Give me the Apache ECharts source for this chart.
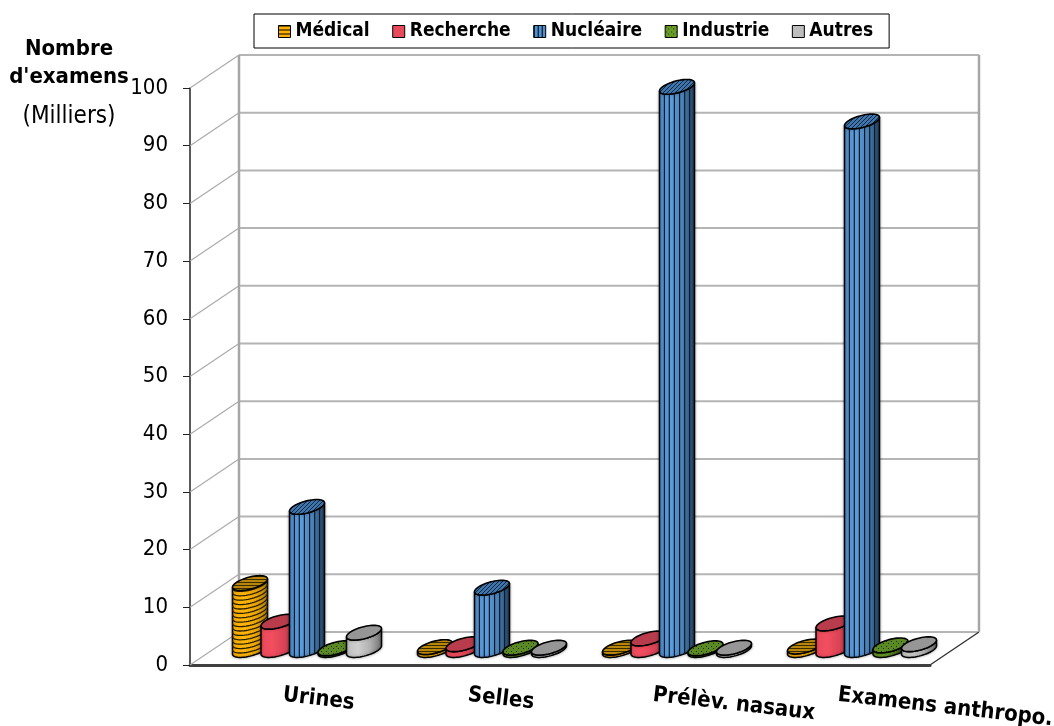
<!DOCTYPE html>
<html>
<head>
<meta charset="utf-8">
<style>html,body{margin:0;padding:0;background:#fff}#chart{width:1054px;height:726px}</style>
<script src="https://cdn.jsdelivr.net/npm/echarts@6/dist/echarts.min.js"></script>
</head>
<body>
<div id="chart"></div>
<script>
// Exams per sample type and requesting sector, in thousands.
var categories = ['Urines', 'Selles', 'Prélèv. nasaux', 'Examens anthropo.'];
var medical = [11.6, 0.5, 0.4, 0.6];
var recherche = [4.9, 1.0, 2.0, 4.6];
var nucleaire = [24.8, 10.8, 97.6, 91.6];
var industrie = [0.3, 0.4, 0.3, 0.8];
var autres = [3.0, 0.4, 0.4, 1.0];
var yTicks = [0, 10, 20, 30, 40, 50, 60, 70, 80, 90, 100];

var FONT = '"DejaVu Sans Condensed", "DejaVu Sans", sans-serif';

// Oblique projection of the chart box.
var DEPTH_X = 49, DEPTH_Y = 33;
var SHIFT_X = 24.5, SHIFT_Y = 15;
var STEP = 28.5;
var ELL_A = 14.5, ELL_BX = 9.8, ELL_BY = 7.4;

function pattern(w, h, draw) {
  var c = document.createElement('canvas');
  c.width = w; c.height = h;
  draw(c.getContext('2d'));
  return { image: c, repeat: 'repeat' };
}
function fillBg(g, col, w, h) { g.fillStyle = col; g.fillRect(0, 0, w, h); }
function diagonal(bg, fg) {
  return pattern(4, 4, function (g) {
    fillBg(g, bg, 4, 4);
    g.strokeStyle = fg; g.lineWidth = 1;
    g.beginPath(); g.moveTo(0, 4); g.lineTo(4, 0); g.stroke();
  });
}
function horizontal(bg, fg, h) {
  return pattern(4, h, function (g) {
    fillBg(g, bg, 4, h);
    g.fillStyle = fg; g.fillRect(0, 0, 4, 1);
  });
}
function dotted(bg, fg) {
  return pattern(5, 5, function (g) {
    fillBg(g, bg, 5, 5);
    g.fillStyle = fg; g.fillRect(1, 1, 1, 1); g.fillRect(3, 3, 1, 1);
  });
}
function vbars(bg, fg) {
  return pattern(4, 4, function (g) {
    fillBg(g, bg, 4, 4);
    g.fillStyle = fg; g.fillRect(0, 0, 1, 4);
  });
}
function grad(stops) {
  return {
    type: 'linear', x: 0, y: 0, x2: 1, y2: 0,
    colorStops: stops.map(function (c, i) { return { offset: i / (stops.length - 1), color: c }; })
  };
}

var looks = [
  { name: 'Médical', values: medical, body: grad(['#F2A900', '#FFB50A', '#E8A408', '#A87C08']),
    cap: horizontal('#B8860B', '#3a2c00', 3), stripes: 'rings',
    key: horizontal('#FFB000', '#000000', 4) },
  { name: 'Recherche', values: recherche, body: grad(['#E8495A', '#F24E60', '#D84355', '#A8323F']),
    cap: '#B93C4C', stripes: null, key: '#E84A5C' },
  { name: 'Nucléaire', values: nucleaire, body: grad(['#4C88C4', '#5C9CDC', '#4A80B4', '#1F3B58']),
    cap: diagonal('#3F75AD', '#10263C'), stripes: 'bars',
    key: vbars('#4F90D0', '#000000') },
  { name: 'Industrie', values: industrie, body: grad(['#5E8C22', '#6C9C2A', '#4A7018', '#2E4A0E']),
    cap: dotted('#5B8A24', '#1c2e06'), stripes: null,
    key: dotted('#6A9C28', '#1c2e06') },
  { name: 'Autres', values: autres, body: grad(['#BEBEBE', '#CFCFCF', '#B0B0B0', '#707070']),
    cap: '#969696', stripes: null, key: '#BDBDBD' }
];

// Points of a floor-plane circle under the oblique projection.
function pt(cx, cy, t) {
  return [cx + ELL_A * Math.cos(t) + ELL_BX * Math.sin(t), cy - ELL_BY * Math.sin(t)];
}
var T0 = Math.atan2(ELL_BX, ELL_A);
var HALF_W = Math.sqrt(ELL_A * ELL_A + ELL_BX * ELL_BX);

function cylinder(seriesIndex) {
  var look = looks[seriesIndex];
  return function (params, api) {
    var top = api.coord([api.value(0), api.value(1)]);
    var zero = api.coord([api.value(0), 0]);
    var cx = top[0] + SHIFT_X + (seriesIndex - 2) * STEP;
    var yTop = top[1] - SHIFT_Y, yBase = zero[1] - SHIFT_Y;
    var i, body = [], capPts = [], n = 28;
    for (i = 0; i <= n; i++) body.push(pt(cx, yTop, T0 - Math.PI * i / n));
    for (i = n; i >= 0; i--) body.push(pt(cx, yBase, T0 - Math.PI * i / n));
    for (i = 0; i < 56; i++) capPts.push(pt(cx, yTop, 2 * Math.PI * i / 56));
    var kids = [{
      type: 'polygon', shape: { points: body },
      style: { fill: look.body, stroke: '#000', lineWidth: 1.5, shadowBlur: 3, shadowColor: 'rgba(0,0,0,0.35)' }
    }];
    if (look.stripes === 'bars') {
      [-12.6, -7.7, -2.6, 2.6, 7.7, 12.6].forEach(function (s) {
        var t = T0 - Math.acos(s / HALF_W);
        var a = pt(cx, yBase, t), b = pt(cx, yTop, t);
        kids.push({ type: 'line', shape: { x1: a[0], y1: a[1], x2: b[0], y2: b[1] },
          style: { stroke: '#0b1a2a', lineWidth: 1.2 } });
      });
    }
    if (look.stripes === 'rings') {
      for (var y = yBase - 4.4; y > yTop; y -= 4.4) {
        var arc = [];
        for (i = 0; i <= n; i++) arc.push(pt(cx, y, T0 - Math.PI * i / n));
        kids.push({ type: 'polyline', shape: { points: arc },
          style: { fill: 'none', stroke: '#2a1e00', lineWidth: 1.3 } });
      }
    }
    kids.push({
      type: 'polygon', shape: { points: capPts },
      style: { fill: look.cap, stroke: '#000', lineWidth: 1.6 }
    });
    return { type: 'group', children: kids };
  };
}

// Side wall, back wall and floor edges, placed from the value axis ticks.
function walls(params, api) {
  var y = api.coord([0, api.value(0)])[1];
  var left = params.coordSys.x, right = left + params.coordSys.width;
  var bl = left + DEPTH_X, br = right + DEPTH_X, by = y - DEPTH_Y;
  var gray = '#A6A6A6';
  var kids = [
    { type: 'line', shape: { x1: left, y1: y, x2: bl, y2: by }, style: { stroke: '#ABABAB', lineWidth: 1.2 } },
    { type: 'line', shape: { x1: bl, y1: by, x2: br, y2: by }, style: { stroke: '#B4B4B4', lineWidth: 2 } }
  ];
  if (api.value(0) === 100) {
    var y0 = api.coord([0, 0])[1] - DEPTH_Y;
    kids.push(
      { type: 'line', shape: { x1: bl, y1: by, x2: bl, y2: y0 }, style: { stroke: gray, lineWidth: 2.5 } },
      { type: 'line', shape: { x1: br, y1: by, x2: br, y2: y0 }, style: { stroke: gray, lineWidth: 2.5 } }
    );
  }
  if (api.value(0) === 0) {
    kids.push({ type: 'line', shape: { x1: right, y1: y, x2: br, y2: by }, style: { stroke: '#333', lineWidth: 1.4 } });
  }
  return { type: 'group', children: kids };
}

var series = [{
  type: 'custom', silent: true, z: 1, clip: false, renderItem: walls,
  data: yTicks.map(function (v) { return [v]; }), encode: { y: 0 }
}];
looks.forEach(function (look, idx) {
  series.push({
    type: 'custom', name: look.name, z: 3, clip: false,
    renderItem: cylinder(idx),
    encode: { x: 0, y: 1 },
    itemStyle: { color: '#888' },
    data: look.values.map(function (v, i) { return [i, v]; })
  });
});

var chart = echarts.init(document.getElementById('chart'), null, { renderer: 'canvas' });
chart.setOption({
  animation: false,
  backgroundColor: '#fff',
  textStyle: { fontFamily: FONT },
  title: [
    { text: "Nombre\nd'examens", left: 69, top: 35, textAlign: 'center',
      textStyle: { fontFamily: FONT, fontSize: 22, fontWeight: 'bold', color: '#000', lineHeight: 28 } , padding: 0 },
    { text: '(Milliers)', left: 69, top: 105, textAlign: 'center',
      textStyle: { fontFamily: FONT, fontSize: 24, fontWeight: 'normal', color: '#000' }, padding: 0 }
  ],
  legend: {
    left: 254, top: 14,
    padding: [8, 16, 7, 24],
    borderColor: '#000', borderWidth: 1, backgroundColor: '#fff',
    itemWidth: 12, itemHeight: 12, itemGap: 22.5,
    textStyle: { fontFamily: FONT, fontSize: 19, fontWeight: 'bold', color: '#000', padding: [3, 0, 0, 0] },
    selectedMode: false,
    data: looks.map(function (l) {
      return { name: l.name, icon: 'rect', itemStyle: { color: l.key, borderColor: '#000', borderWidth: 1 } };
    })
  },
  grid: { left: 190, right: 124, top: 88, bottom: 61, outerBoundsMode: 'none' },
  xAxis: {
    type: 'category', data: categories,
    axisLine: { lineStyle: { color: '#404040', width: 3 } },
    axisTick: { length: 8, lineStyle: { color: '#222', width: 1 } },
    axisLabel: {
      interval: 0, rotate: -6.5, align: 'left', verticalAlign: 'top', margin: 17, hideOverlap: false,
      fontFamily: FONT, fontSize: 22, fontWeight: 'bold', color: '#000', padding: [2, 0, 0, 2]
    },
    splitLine: { show: false }
  },
  yAxis: {
    type: 'value', min: 0, max: 100, interval: 10,
    axisLine: { show: true, lineStyle: { color: '#222', width: 1.5 } },
    axisTick: { show: true, length: 7, lineStyle: { color: '#222', width: 1 } },
    axisLabel: { margin: 22, fontFamily: FONT, fontSize: 22, color: '#000', padding: [5, 0, 0, 0] },
    splitLine: { show: false }
  },
  series: series
});
</script>
</body>
</html>
